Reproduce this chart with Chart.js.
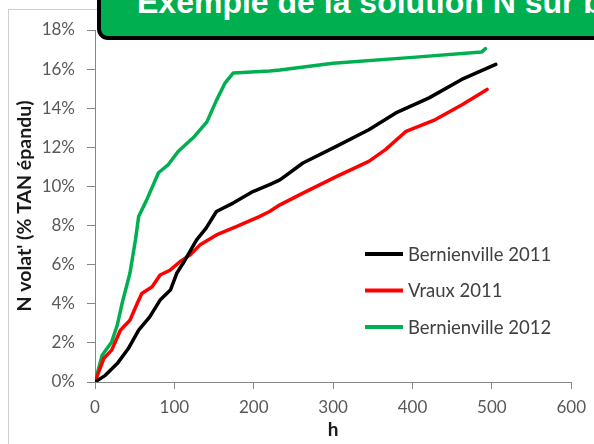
<!DOCTYPE html>
<html>
<head>
<meta charset="utf-8">
<script src="https://cdn.jsdelivr.net/npm/chart.js@4"></script>
<style>
  html, body { margin: 0; padding: 0; background: #fff; overflow: hidden; }
  #wrap { position: relative; width: 594px; height: 444px; overflow: hidden; }
  #frame { position: absolute; left: 8px; top: 9px; width: 620px; height: 460px; border: 1px solid #cfcfcf; }
  #c { position: absolute; left: 0; top: 0; }
  #banner {
    position: absolute; left: 97px; top: -20px; width: 540px; height: 52px;
    background: #00b050; border: 4px solid #000; border-radius: 11px;
  }
  #banner span {
    position: absolute; left: 36px; top: 2px; white-space: nowrap;
    font: bold 32px/32px "Liberation Sans", Arial, sans-serif; color: #fff;
  }
</style>
</head>
<body>
<div id="wrap">
  <div id="frame"></div>
  <canvas id="c" width="594" height="444"></canvas>
  <div id="banner"><span>Exemple de la solution N sur b</span></div>
</div>
<script>
// heures / N volatilisé (% TAN épandu)
const bern2011_h = [0,13,28,42,55,69,82,95,103,111,128,140,153,174,199,220,233,262,304,345,379,421,462,505];
const bern2011_v = [0,0.34,0.94,1.71,2.65,3.33,4.19,4.7,5.56,6.07,7.27,7.87,8.72,9.15,9.74,10.09,10.34,11.2,12.05,12.9,13.76,14.53,15.47,16.24];

const vraux2011_h = [0,11,21,32,44,53,59,72,82,95,107,120,132,153,178,207,220,233,262,304,345,366,392,429,463,494];
const vraux2011_v = [0,1.2,1.63,2.65,3.16,4.0,4.53,4.87,5.47,5.73,6.15,6.5,7.0,7.52,7.95,8.46,8.72,9.06,9.66,10.5,11.28,11.88,12.82,13.42,14.19,14.96];

const bern2012_h = [0,9,21,28,34,44,51,55,65,80,92,105,124,141,153,164,174,220,233,300,400,487,492];
const bern2012_v = [0,1.37,2.05,2.9,4.0,5.56,7.27,8.46,9.3,10.7,11.1,11.8,12.5,13.3,14.4,15.3,15.8,15.9,15.95,16.3,16.6,16.87,17.05];

const seriesNames = ['Bernienville 2011', 'Vraux 2011', 'Bernienville 2012'];
const seriesColors = ['#000000', '#ff0000', '#00b050'];

function pts(h, v) { return h.map((x, i) => ({x: x, y: v[i]})); }

const tickFont = {family: 'Lato', size: 17};
const axisColor = '#868686';

// légende dessinée dans la zone du graphique
const insideLegend = {
  id: 'insideLegend',
  afterDraw(chart) {
    const ctx = chart.ctx;
    ctx.save();
    ctx.font = '18.5px Lato';
    ctx.textBaseline = 'middle';
    ctx.fillStyle = '#404040';
    chart.data.datasets.forEach((ds, i) => {
      const y = 254 + i * 36.5;
      ctx.strokeStyle = ds.borderColor;
      ctx.lineWidth = 4;
      ctx.beginPath();
      ctx.moveTo(365, y);
      ctx.lineTo(403, y);
      ctx.stroke();
      ctx.fillText(ds.label, 408, y + 1);
    });
    ctx.restore();
  }
};

new Chart(document.getElementById('c'), {
  type: 'line',
  data: {
    datasets: [
      { label: seriesNames[0], data: pts(bern2011_h, bern2011_v), borderColor: seriesColors[0] },
      { label: seriesNames[1], data: pts(vraux2011_h, vraux2011_v), borderColor: seriesColors[1] },
      { label: seriesNames[2], data: pts(bern2012_h, bern2012_v), borderColor: seriesColors[2] }
    ]
  },
  options: {
    responsive: false,
    devicePixelRatio: 1,
    animation: false,
    layout: { padding: { left: 10, top: 30, right: 18, bottom: 2 } },
    elements: {
      point: { radius: 0 },
      line: { borderWidth: 3.5, tension: 0, fill: false, borderCapStyle: 'round', borderJoinStyle: 'round' }
    },
    plugins: {
      legend: { display: false },
      tooltip: { enabled: false }
    },
    scales: {
      x: {
        type: 'linear', min: 0, max: 600,
        ticks: { stepSize: 100, color: '#595959', font: tickFont, padding: 8, maxRotation: 0 },
        grid: { drawOnChartArea: false, drawTicks: true, tickLength: 7, color: axisColor },
        border: { color: axisColor, width: 1 },
        title: { display: true, text: 'h', color: '#1a1a1a', font: {family: 'Lato', size: 19, weight: 'bold'}, padding: {top: 0, bottom: 1} },
        afterFit(s) { s.height = 444 - 382 - 2; }
      },
      y: {
        min: 0, max: 18,
        ticks: { stepSize: 2, color: '#595959', font: tickFont, padding: 12, callback: v => v + '%' },
        grid: { drawOnChartArea: false, drawTicks: true, tickLength: 8, color: axisColor },
        border: { color: axisColor, width: 1 },
        title: { display: true, text: "N volat' (% TAN épandu)", color: '#1a1a1a', font: {family: 'Lato', size: 19.5, weight: 'bold'}, padding: {top: 3, bottom: 0} },
        afterFit(s) { s.width = 85; }
      }
    }
  },
  plugins: [insideLegend]
});
</script>
</body>
</html>
